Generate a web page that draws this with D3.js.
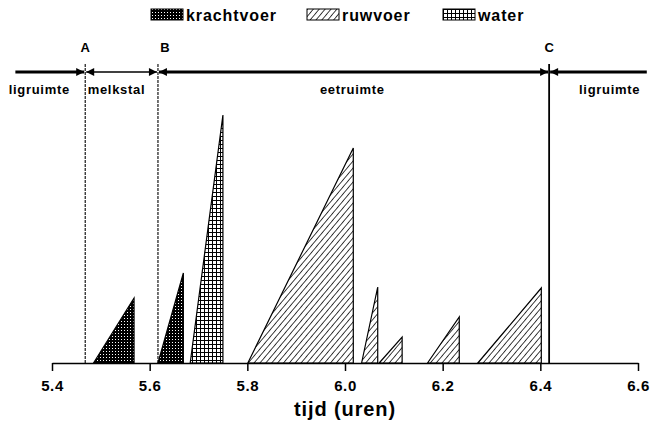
<!DOCTYPE html>
<html>
  <head>
    <meta charset="utf-8">
    <title>Vreetgedrag</title>
    <script src="https://cdn.jsdelivr.net/npm/d3@7"></script>
    <style>
      body { margin: 0; background: #fff; }
      svg { display: block; font-family: "Liberation Sans", Arial, sans-serif; }
      .zone-label { font-size: 13px; font-weight: bold; letter-spacing: 0.7px; }
      .letter { font-size: 13px; font-weight: bold; text-anchor: middle; }
      .legend text { font-size: 16px; font-weight: bold; letter-spacing: 0.9px; }
      .axis text { font-size: 15px; font-weight: bold; letter-spacing: 0.6px; fill: #000; }
      .axis path, .axis line { stroke: #000; stroke-width: 1.5px; }
      .axis-title { font-size: 20px; font-weight: bold; letter-spacing: 0.9px; text-anchor: middle; }
      .meal { stroke: #000; stroke-width: 1.2px; }
    </style>
  </head>
  <body>
    <script>

    // voertypes en legenda
    const feedTypes = ["krachtvoer", "ruwvoer", "water"];

    // eet/drink-beurten: begin, eind (uren) en hoogte (willekeurige eenheid)
    const mealType   = ["krachtvoer", "krachtvoer", "water", "ruwvoer", "ruwvoer", "ruwvoer", "ruwvoer", "ruwvoer"];
    const mealStart  = [5.485, 5.617, 5.683, 5.801, 6.034, 6.070, 6.169, 6.272];
    const mealEnd    = [5.568, 5.669, 5.750, 6.017, 6.067, 6.117, 6.234, 6.402];
    const mealAmount = [65, 90, 248, 215, 76, 26, 46, 75];

    // verblijfplaatsen: grenzen (uren) en namen
    const markerNames = ["A", "B", "C"];
    const markerTimes = [5.468, 5.617, 6.418];
    const zoneNames = ["ligruimte", "melkstal", "eetruimte", "ligruimte"];
    const zoneLabelAt = [5.374, 5.532, 6.015, 6.542];
    const rowStart = 5.325, rowEnd = 6.618;

    const xTicks = [5.4, 5.6, 5.8, 6.0, 6.2, 6.4, 6.6];

    const W = 652, H = 423;
    const base = 363, arrowY = 72, markerTop = 64;

    const svg = d3.select("body").append("svg")
      .attr("width", W)
      .attr("height", H);

    const x = d3.scaleLinear().domain([5.4, 6.6]).range([52, 638]);
    const y = d3.scaleLinear().domain([0, 250]).range([base, base - 250]);

    // patronen
    const defs = svg.append("defs");

    let p = defs.append("pattern").attr("id", "pat-krachtvoer")
      .attr("patternUnits", "userSpaceOnUse").attr("width", 3).attr("height", 3);
    p.append("rect").attr("width", 3).attr("height", 3).attr("fill", "#000");
    p.append("rect").attr("x", 1).attr("y", 0).attr("width", 1).attr("height", 1).attr("fill", "#fff");

    p = defs.append("pattern").attr("id", "pat-ruwvoer")
      .attr("patternUnits", "userSpaceOnUse").attr("width", 4.5).attr("height", 4.5)
      .attr("patternTransform", "rotate(40)");
    p.append("rect").attr("width", 4.5).attr("height", 4.5).attr("fill", "#fff");
    p.append("line").attr("x1", 0).attr("y1", 0).attr("x2", 0).attr("y2", 4.5)
      .attr("stroke", "#000").attr("stroke-width", 1.5);

    p = defs.append("pattern").attr("id", "pat-water")
      .attr("patternUnits", "userSpaceOnUse").attr("width", 4).attr("height", 4);
    p.append("rect").attr("width", 4).attr("height", 4).attr("fill", "#fff");
    p.append("path").attr("d", "M0,0.5H4M0.5,0V4").attr("stroke", "#000").attr("stroke-width", 1);

    const marker = (id, orient) => {
      defs.append("marker").attr("id", id)
        .attr("viewBox", "0 0 10 10").attr("refX", 10).attr("refY", 5)
        .attr("markerUnits", "userSpaceOnUse")
        .attr("markerWidth", 9).attr("markerHeight", 8)
        .attr("orient", orient)
        .append("path").attr("d", "M0,0L10,5L0,10z").attr("fill", "#000");
    };
    marker("arrow", "auto");
    marker("arrow-start", "auto-start-reverse");

    // legenda
    const legend = svg.append("g").attr("class", "legend");
    const legendX = [151, 307, 443];
    feedTypes.forEach((t, i) => {
      const g = legend.append("g").attr("transform", "translate(" + legendX[i] + ",9)");
      g.append("rect").attr("width", 32).attr("height", 11)
        .attr("fill", "url(#pat-" + t + ")").attr("stroke", "#000").attr("stroke-width", 1);
      g.append("text").attr("x", 35).attr("y", 12).text(t);
    });

    // bovenste rij: pijlen tussen de verblijfplaatsen
    const edges = [rowStart].concat(markerTimes, [rowEnd]);
    const segs = [
      { a: edges[0], b: edges[1], w: 3, start: false, end: true },
      { a: edges[1], b: edges[2], w: 1.5, start: true, end: true },
      { a: edges[2], b: edges[3], w: 3, start: true, end: true },
      { a: edges[4], b: edges[3], w: 3, start: false, end: true }
    ];
    svg.append("g").selectAll("line")
      .data(segs).enter()
      .append("line")
      .attr("x1", d => x(d.a) + (d.start ? (d.a < d.b ? 1 : -1) : 0))
      .attr("x2", d => x(d.b) + (d.a < d.b ? -1 : 1))
      .attr("y1", arrowY).attr("y2", arrowY)
      .attr("stroke", "#000").attr("stroke-width", d => d.w)
      .attr("marker-start", d => d.start ? "url(#arrow-start)" : null)
      .attr("marker-end", d => d.end ? "url(#arrow)" : null);

    // verticale lijnen A, B, C
    svg.append("g").selectAll("line")
      .data(markerTimes).enter()
      .append("line")
      .attr("x1", d => x(d)).attr("x2", d => x(d))
      .attr("y1", markerTop).attr("y2", base)
      .attr("stroke", "#000")
      .attr("stroke-width", (d, i) => i === 2 ? 1.8 : 1.1)
      .attr("stroke-dasharray", (d, i) => i === 2 ? null : "3,1");

    svg.append("g").selectAll("text")
      .data(markerNames).enter()
      .append("text")
      .attr("class", "letter")
      .attr("x", (d, i) => x(markerTimes[i]) + (i === 1 ? 7 : 0))
      .attr("y", 52)
      .text(d => d);

    svg.append("g").selectAll("text")
      .data(zoneNames).enter()
      .append("text")
      .attr("class", "zone-label")
      .attr("x", (d, i) => x(zoneLabelAt[i]))
      .attr("y", 94)
      .attr("text-anchor", "middle")
      .text(d => d);

    // driehoeken
    const tri = d3.line().x(d => x(d[0])).y(d => y(d[1]));
    svg.append("g").selectAll("path")
      .data(mealStart).enter()
      .append("path")
      .attr("class", "meal")
      .attr("d", (d, i) => tri([[d, 0], [mealEnd[i], mealAmount[i]], [mealEnd[i], 0]]) + "Z")
      .attr("fill", (d, i) => "url(#pat-" + mealType[i] + ")");

    // x-as
    svg.append("g")
      .attr("class", "axis")
      .attr("transform", "translate(0," + base + ")")
      .call(d3.axisBottom(x).tickValues(xTicks).tickFormat(d3.format(".1f")).tickSize(8).tickSizeOuter(0).tickPadding(9));

    svg.append("text")
      .attr("class", "axis-title")
      .attr("x", x(6.0))
      .attr("y", 416)
      .text("tijd (uren)");

    </script>
  </body>
</html>
